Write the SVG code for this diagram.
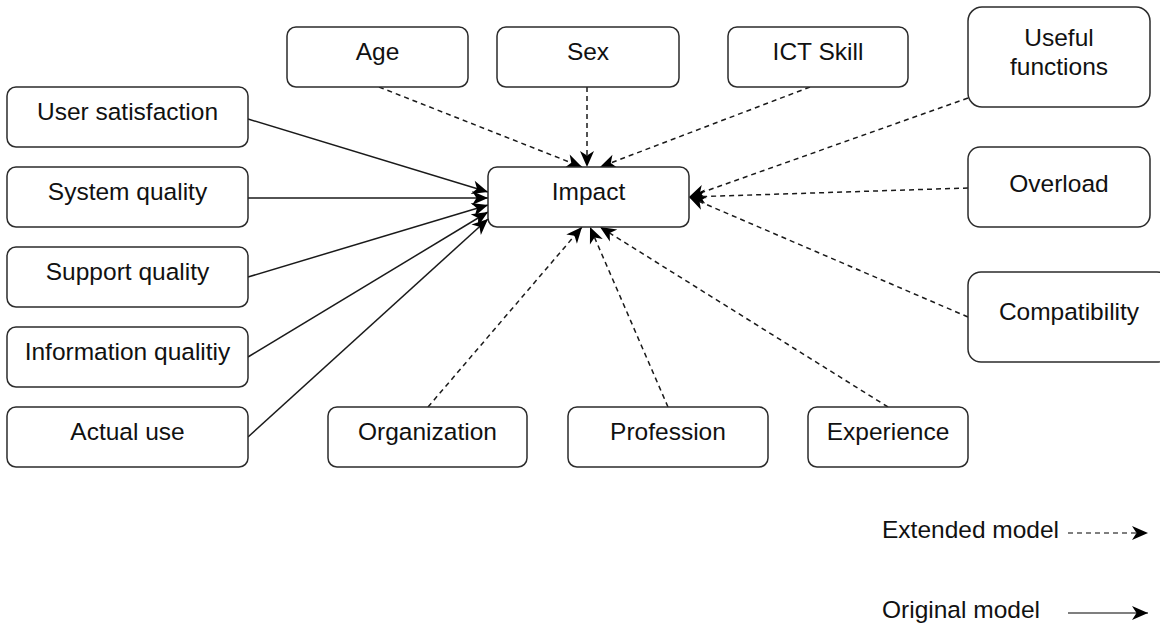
<svg xmlns="http://www.w3.org/2000/svg" width="1160" height="627" viewBox="0 0 1160 627">
  <style>
    .box { fill: #ffffff; stroke: #2b2b2b; stroke-width: 1.5; }
    .lbl { font-family: "Liberation Sans", Arial, sans-serif; font-size: 24.5px; fill: #111; text-anchor: middle; }
    .solid { fill: none; stroke: #1a1a1a; stroke-width: 1.5; marker-end: url(#arr); }
    .dash { fill: none; stroke: #1a1a1a; stroke-width: 1.5; stroke-dasharray: 5 4; marker-end: url(#arr); }
  </style>
  <defs>
    <!-- classic block arrowhead, sized in user units -->
    <marker id="arr" markerUnits="userSpaceOnUse" markerWidth="20" markerHeight="16" refX="16" refY="7" orient="auto" overflow="visible">
      <path d="M0,0 L16,7 L0,14 L4.5,7 Z" fill="#000"/>
    </marker>
  </defs>
  <rect width="1160" height="627" fill="#ffffff"/>

  <!-- connectors -->
  <g id="connectors">
    <!-- original model (solid) -->
    <line class="solid" x1="248" y1="119" x2="488" y2="192"/>
    <line class="solid" x1="248" y1="198" x2="488" y2="198"/>
    <line class="solid" x1="248" y1="277" x2="488" y2="205"/>
    <line class="solid" x1="248" y1="357" x2="488" y2="212"/>
    <line class="solid" x1="248" y1="437" x2="488" y2="219"/>
    <!-- extended model (dashed) -->
    <line class="dash" x1="379" y1="87" x2="582" y2="167"/>
    <line class="dash" x1="587" y1="87" x2="587" y2="167"/>
    <line class="dash" x1="810" y1="87" x2="600" y2="167"/>
    <line class="dash" x1="968" y1="98" x2="689" y2="197"/>
    <line class="dash" x1="968" y1="188" x2="689" y2="197"/>
    <line class="dash" x1="968" y1="317" x2="689" y2="197"/>
    <line class="dash" x1="428" y1="407" x2="582" y2="227"/>
    <line class="dash" x1="668" y1="407" x2="590" y2="227"/>
    <line class="dash" x1="888" y1="407" x2="600" y2="227"/>
  </g>

  <!-- central node -->
  <g id="impact">
    <rect class="box" x="488" y="167" width="201" height="60" rx="9"/>
    <text class="lbl" x="588.5" y="200">Impact</text>
  </g>

  <!-- left column -->
  <g id="user-satisfaction">
    <rect class="box" x="7" y="87" width="241" height="60" rx="9"/>
    <text class="lbl" x="127.5" y="120">User satisfaction</text>
  </g>
  <g id="system-quality">
    <rect class="box" x="7" y="167" width="241" height="60" rx="9"/>
    <text class="lbl" x="127.5" y="200">System quality</text>
  </g>
  <g id="support-quality">
    <rect class="box" x="7" y="247" width="241" height="60" rx="9"/>
    <text class="lbl" x="127.5" y="280">Support quality</text>
  </g>
  <g id="information-quality">
    <rect class="box" x="7" y="327" width="241" height="60" rx="9"/>
    <text class="lbl" x="127.5" y="360">Information qualitiy</text>
  </g>
  <g id="actual-use">
    <rect class="box" x="7" y="407" width="241" height="60" rx="9"/>
    <text class="lbl" x="127.5" y="440">Actual use</text>
  </g>

  <!-- top row -->
  <g id="age">
    <rect class="box" x="287" y="27" width="181" height="60" rx="9"/>
    <text class="lbl" x="377.5" y="60">Age</text>
  </g>
  <g id="sex">
    <rect class="box" x="497" y="27" width="182" height="60" rx="9"/>
    <text class="lbl" x="588" y="60">Sex</text>
  </g>
  <g id="ict-skill">
    <rect class="box" x="728" y="27" width="180" height="60" rx="9"/>
    <text class="lbl" x="818" y="60">ICT Skill</text>
  </g>

  <!-- right column -->
  <g id="useful-functions">
    <rect class="box" x="968" y="7" width="182" height="100" rx="14"/>
    <text class="lbl" x="1059" y="46">Useful</text>
    <text class="lbl" x="1059" y="75">functions</text>
  </g>
  <g id="overload">
    <rect class="box" x="968" y="147" width="182" height="80" rx="12"/>
    <text class="lbl" x="1059" y="192">Overload</text>
  </g>
  <g id="compatibility">
    <rect class="box" x="968" y="272" width="202" height="90" rx="13"/>
    <text class="lbl" x="1069" y="320">Compatibility</text>
  </g>

  <!-- bottom row -->
  <g id="organization">
    <rect class="box" x="328" y="407" width="199" height="60" rx="9"/>
    <text class="lbl" x="427.5" y="440">Organization</text>
  </g>
  <g id="profession">
    <rect class="box" x="568" y="407" width="200" height="60" rx="9"/>
    <text class="lbl" x="668" y="440">Profession</text>
  </g>
  <g id="experience">
    <rect class="box" x="808" y="407" width="160" height="60" rx="9"/>
    <text class="lbl" x="888" y="440">Experience</text>
  </g>

  <!-- legend -->
  <g id="legend">
    <text class="lbl" x="882" y="538" style="text-anchor:start">Extended model</text>
    <line class="dash" x1="1068" y1="533" x2="1148" y2="533" style="stroke:#555"/>
    <text class="lbl" x="882" y="618" style="text-anchor:start">Original model</text>
    <line class="solid" x1="1068" y1="613" x2="1148" y2="613" style="stroke:#555"/>
  </g>
</svg>
